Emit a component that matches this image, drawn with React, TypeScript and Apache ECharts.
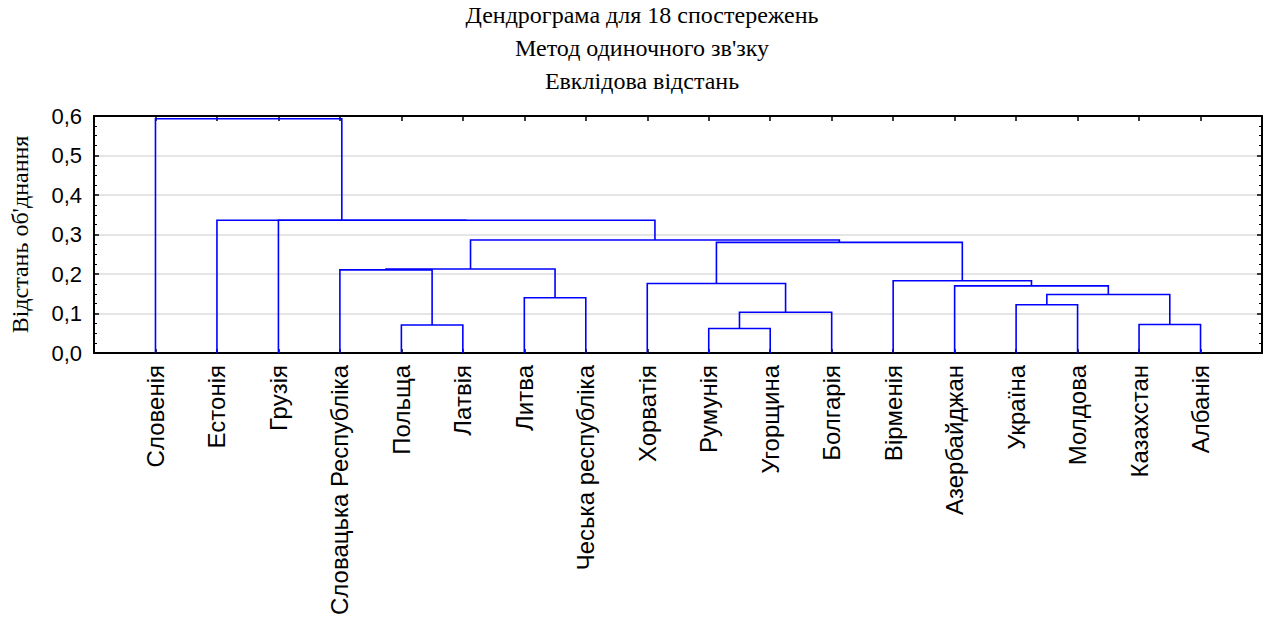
import React, { useEffect, useRef } from "react";
import * as echarts from "echarts";

const titleLines = [
  "Дендрограма для 18 спостережень",
  "Метод одиночного зв'зку",
  "Евклідова відстань",
];
const yAxisName = "Відстань об'днання";

// leaves in dendrogram order
const leaves = [
  "Словенія",
  "Естонія",
  "Грузія",
  "Словацька Республіка",
  "Польща",
  "Латвія",
  "Литва",
  "Чеська республіка",
  "Хорватія",
  "Румунія",
  "Угорщина",
  "Болгарія",
  "Вірменія",
  "Азербайджан",
  "Україна",
  "Молдова",
  "Казахстан",
  "Албанія",
];

// merges: [left node, right node]; node ids 0..17 are leaves, 18+k is merge k
const mergeLeft = [9, 4, 16, 18, 14, 6, 22, 13, 8, 12, 3, 28, 26, 29, 2, 1, 0];
const mergeRight = [10, 5, 17, 11, 15, 7, 20, 24, 21, 25, 19, 23, 27, 30, 31, 32, 33];
const mergeHeight = [
  0.062, 0.071, 0.072, 0.103, 0.122, 0.14, 0.148, 0.17, 0.176, 0.183, 0.2105,
  0.2125, 0.28, 0.286, 0.336, 0.336, 0.593,
];

const yTicks = [0, 0.1, 0.2, 0.3, 0.4, 0.5, 0.6];

function buildSegments() {
  const n = leaves.length;
  const xs: number[] = [];
  const hs: number[] = [];
  for (let i = 0; i < n; i++) {
    xs.push(i + 1);
    hs.push(0);
  }
  const segs: number[][] = [];
  for (let k = 0; k < mergeLeft.length; k++) {
    const a = mergeLeft[k];
    const b = mergeRight[k];
    const h = mergeHeight[k];
    segs.push([xs[a], xs[b], h, hs[a], hs[b]]);
    xs.push((xs[a] + xs[b]) / 2);
    hs.push(h);
  }
  return segs;
}

export default function App() {
  const ref = useRef<HTMLDivElement>(null);
  useEffect(() => {
    if (!ref.current) return;
    const chart = echarts.init(ref.current, undefined, { renderer: "svg" });
    const segs = buildSegments();
    const sans = "Liberation Sans";
    const serif = "Liberation Serif";
    const tops = [3, 36, 69];
    const frameLine = { show: true, onZero: false, lineStyle: { color: "#000", width: 2 } };
    chart.setOption({
      animation: false,
      backgroundColor: "#ffffff",
      title: titleLines.map((t, i) => ({
        text: t,
        left: 642,
        top: tops[i],
        padding: 0,
        textAlign: "center",
        textStyle: {
          fontFamily: serif,
          fontSize: 24,
          fontWeight: "normal",
          color: "#000",
        },
      })),
      grid: { left: 94, right: 5, top: 116, bottom: 268, containLabel: false },
      xAxis: [
        {
          type: "value",
          position: "bottom",
          min: 0,
          max: 19,
          interval: 1,
          axisLine: frameLine,
          axisTick: { show: true, inside: true, length: 4, lineStyle: { color: "#000", width: 1.5 } },
          splitLine: { show: false },
          axisLabel: {
            show: true,
            rotate: 90,
            margin: 12,
            fontFamily: sans,
            fontSize: 24,
            color: "#000",
            formatter: (v: number) => (v >= 1 && v <= leaves.length ? leaves[Math.round(v) - 1] : ""),
          },
        },
        {
          type: "value",
          position: "top",
          min: 0,
          max: 19,
          interval: 1,
          axisLine: frameLine,
          axisTick: { show: true, inside: true, length: 5, lineStyle: { color: "#000", width: 1.5 } },
          splitLine: { show: false },
          axisLabel: { show: false },
        },
      ],
      yAxis: [
        {
          type: "value",
          position: "left",
          min: yTicks[0],
          max: yTicks[yTicks.length - 1],
          interval: 0.1,
          name: yAxisName,
          nameLocation: "middle",
          nameGap: 62,
          nameTextStyle: { fontFamily: serif, fontSize: 24, color: "#000" },
          axisLine: frameLine,
          axisTick: { show: true, inside: true, length: 5, lineStyle: { color: "#000", width: 1.5 } },
          minorTick: { show: true, splitNumber: 4, length: 3, lineStyle: { color: "#000", width: 1 } },
          splitLine: { show: true, lineStyle: { color: "#dcdcdc", width: 1.5 } },
          axisLabel: {
            margin: 12,
            fontFamily: sans,
            fontSize: 22,
            color: "#000",
            formatter: (v: number) => v.toFixed(1).replace(".", ","),
          },
        },
        {
          type: "value",
          position: "right",
          min: yTicks[0],
          max: yTicks[yTicks.length - 1],
          interval: 0.1,
          axisLine: frameLine,
          axisTick: { show: true, inside: true, length: 5, lineStyle: { color: "#000", width: 1.5 } },
          minorTick: { show: true, splitNumber: 4, length: 3, lineStyle: { color: "#000", width: 1 } },
          splitLine: { show: false },
          axisLabel: { show: false },
        },
      ],
      series: [
        {
          type: "custom",
          coordinateSystem: "cartesian2d",
          xAxisIndex: 0,
          yAxisIndex: 0,
          encode: { x: [0, 1], y: [2, 3, 4] },
          data: segs,
          renderItem: (params: any, api: any) => {
            const xl = api.value(0);
            const xr = api.value(1);
            const h = api.value(2);
            const hl = api.value(3);
            const hr = api.value(4);
            const pts = [
              api.coord([xl, hl]),
              api.coord([xl, h]),
              api.coord([xr, h]),
              api.coord([xr, hr]),
            ];
            return {
              type: "polyline",
              shape: { points: pts },
              style: { stroke: "#0000ff", lineWidth: 1.6, fill: null },
            };
          },
          z: 3,
        },
      ],
    });
    return () => chart.dispose();
  }, []);
  return (
    <div
      ref={ref}
      style={{ position: "fixed", left: 0, top: 0, width: 1267, height: 621 }}
    />
  );
}
